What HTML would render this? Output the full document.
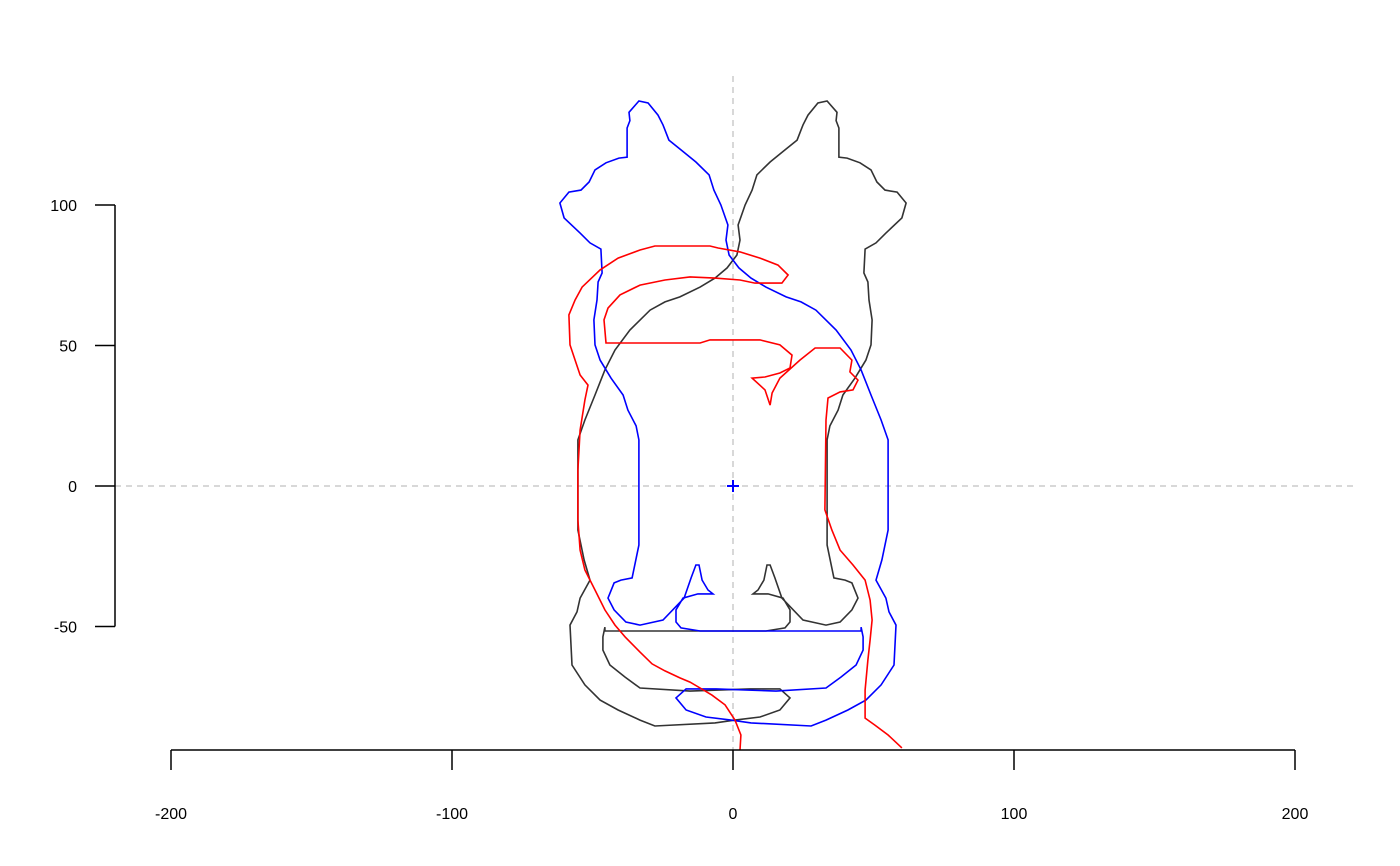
<!DOCTYPE html>
<html><head><meta charset="utf-8">
<style>
html,body{margin:0;padding:0;background:#fff;}
svg{display:block;font-family:"Liberation Sans",sans-serif;}
</style></head>
<body>
<svg id="chart" width="1400" height="866" viewBox="0 0 1400 866" xmlns="http://www.w3.org/2000/svg"></svg>
<script>
const xTicks = [-200, -100, 0, 100, 200];
const yTicks = [-50, 0, 50, 100];
const shapeX = [33.5,37,36.7,37.7,37.7,40.6,45.2,49.1,51.2,54.1,58.4,61.6,60.1,54.4,50.9,47,46.6,48,48.4,49.5,49.1,47.3,43.4,39.1,37.4,34.5,33.5,33.5,35.9,39.9,42.3,44.5,42.3,38.1,33.1,24.9,17.4,14.9,13.2,12.1,11,8.9,7.1,12.5,17.8,20.3,20.3,18.5,11.7,-45.6,-45.6,-46.3,-46.3,-43.8,-38.4,-33.1,-15.3,6,16.7,20.3,16.7,9.6,0.7,-6.4,-27.8,-33.1,-40.9,-47.3,-52.7,-57.3,-58,-55.5,-54.4,-50.9,-53,-55.2,-55.2,-52.7,-49.1,-45.6,-42,-36.7,-29.5,-24.2,-18.9,-11.7,-6.4,-2.1,1.4,2.5,1.8,4.3,6.8,8.5,13.2,18.5,22.8,24.9,26.7,30.2];
const shapeY = [137,133,130,127.4,117,116.7,115,112.5,108.2,105.3,104.6,100.7,95.4,90,86.5,84.3,75.8,72.6,66.2,59.1,50.2,44.8,38.4,32.4,27,21.4,16.4,-21,-32.7,-33.5,-34.5,-39.9,-44.1,-48.4,-49.5,-47.7,-39.9,-32.7,-28.1,-28.1,-33.5,-37,-38.4,-38.4,-39.9,-44.1,-48.4,-50.5,-51.6,-51.6,-50.2,-53.7,-58.4,-63.7,-68,-71.9,-73,-72.2,-72.2,-75.4,-79.7,-82.2,-83.3,-84.3,-85.4,-83.3,-79.7,-76.2,-70.8,-63.7,-49.5,-44.8,-39.9,-33.5,-26.3,-15.7,16.4,23.5,32.4,41.3,48.4,55.5,62.6,65.5,67.3,70.8,74,77.6,82.2,87.5,92.9,100,105.3,110.7,115.3,119.6,123.1,128.5,132,136.3];
const redX = [2.5,2.8,0.7,-2.8,-7.5,-11.7,-15.3,-18.9,-24.2,-28.8,-33.1,-38.4,-42,-45.6,-49.1,-52.7,-54.4,-55.2,-55.2,-54.4,-52.7,-51.6,-54.4,-56.2,-58,-58.4,-56.2,-53.7,-47.3,-40.9,-33.1,-27.8,-8.2,-5.3,2.5,9.6,16,19.6,17.4,7.8,2.5,-6.4,-15.3,-24.2,-33.1,-40.2,-44.5,-45.9,-45.2,-11.7,-8.2,9.6,16.7,21,20.3,16.7,11.4,6.8,11.4,13.2,13.9,16.7,23.8,29.2,38.1,42.3,41.6,44.5,42.7,38.1,33.8,33.1,32.7,35.2,38.1,42.7,47,48.8,49.5,48.8,48,47,47,50.5,55.2,60.1];
const redY = [-94,-88.6,-83.3,-77.9,-74.4,-71.9,-69.8,-68.3,-65.8,-63.3,-59.1,-53.7,-49.5,-44.1,-37,-29.9,-22.8,-12.1,5.7,19.9,30.6,35.9,39.5,44.8,50.2,60.9,66.2,70.8,76.9,81.1,84,85.4,85.4,84.7,83.3,81.1,78.6,75.1,72.2,72.2,73.3,74,74.4,73.3,71.5,68,63.3,59.1,50.9,50.9,52,52,50.2,46.6,42,40.2,38.8,38.4,34.2,28.8,33.1,38.4,44.8,49.1,49.1,44.8,40.6,37.7,34.2,33.5,31.3,23.5,-8.5,-15.7,-22.8,-28.1,-33.5,-40.6,-47.7,-54.8,-61.9,-72.6,-82.6,-85.1,-88.6,-93.2];

const NS='http://www.w3.org/2000/svg';
const svg=document.getElementById('chart');
const sx=v=>733+v*2.81;
const sy=v=>486-v*2.81;
function mk(tag,attrs,parent){const e=document.createElementNS(NS,tag);for(const k in attrs)e.setAttribute(k,attrs[k]);(parent||svg).appendChild(e);return e;}

// reference lines
let e=mk('line',{x1:sx(0),y1:76,x2:sx(0),y2:750,stroke:'#cccccc','stroke-width':1.5,'stroke-dasharray':'6,5'});


e=mk('line',{x1:115,y1:sy(0),x2:1355,y2:sy(0),stroke:'#cccccc','stroke-width':1.5,'stroke-dasharray':'6,5'});



function pts(xs,ys,mirror){return xs.map((x,i)=>sx(mirror?-x:x).toFixed(1)+','+sy(ys[i]).toFixed(1)).join(' ');}
e=mk('polygon',{points:pts(shapeX,shapeY,false),fill:'none',stroke:'#333333','stroke-width':1.6});


e=mk('polygon',{points:pts(shapeX,shapeY,true),fill:'none',stroke:'#0000ff','stroke-width':1.6});


e=mk('polyline',{points:pts(redX,redY,false),fill:'none',stroke:'#ff0000','stroke-width':1.6});



// centroid marker
const cg=mk('g',{stroke:'#0000ff','stroke-width':2});


mk('line',{x1:sx(0)-6,y1:sy(0),x2:sx(0)+6,y2:sy(0)},cg);
mk('line',{x1:sx(0),y1:sy(0)-6,x2:sx(0),y2:sy(0)+6},cg);

// x axis
const xa=mk('g',{stroke:'#000','stroke-width':1.5});


mk('line',{x1:sx(xTicks[0]),y1:750,x2:sx(xTicks[xTicks.length-1]),y2:750},xa);
xTicks.forEach(t=>{
  mk('line',{x1:sx(t),y1:750,x2:sx(t),y2:770},xa);
  const tx=mk('text',{x:sx(t),y:819,'text-anchor':'middle','font-size':16,fill:'#000',stroke:'none'});
  tx.textContent=t;
  
  
});
// y axis
const ya=mk('g',{stroke:'#000','stroke-width':1.5});


mk('line',{x1:115,y1:sy(yTicks[0]),x2:115,y2:sy(yTicks[yTicks.length-1])},ya);
yTicks.forEach(t=>{
  mk('line',{x1:95,y1:sy(t),x2:115,y2:sy(t)},ya);
  const tx=mk('text',{x:77,y:sy(t)+6,'text-anchor':'end','font-size':16,fill:'#000',stroke:'none'});
  tx.textContent=t;
  
  
});
</script>
</body></html>
